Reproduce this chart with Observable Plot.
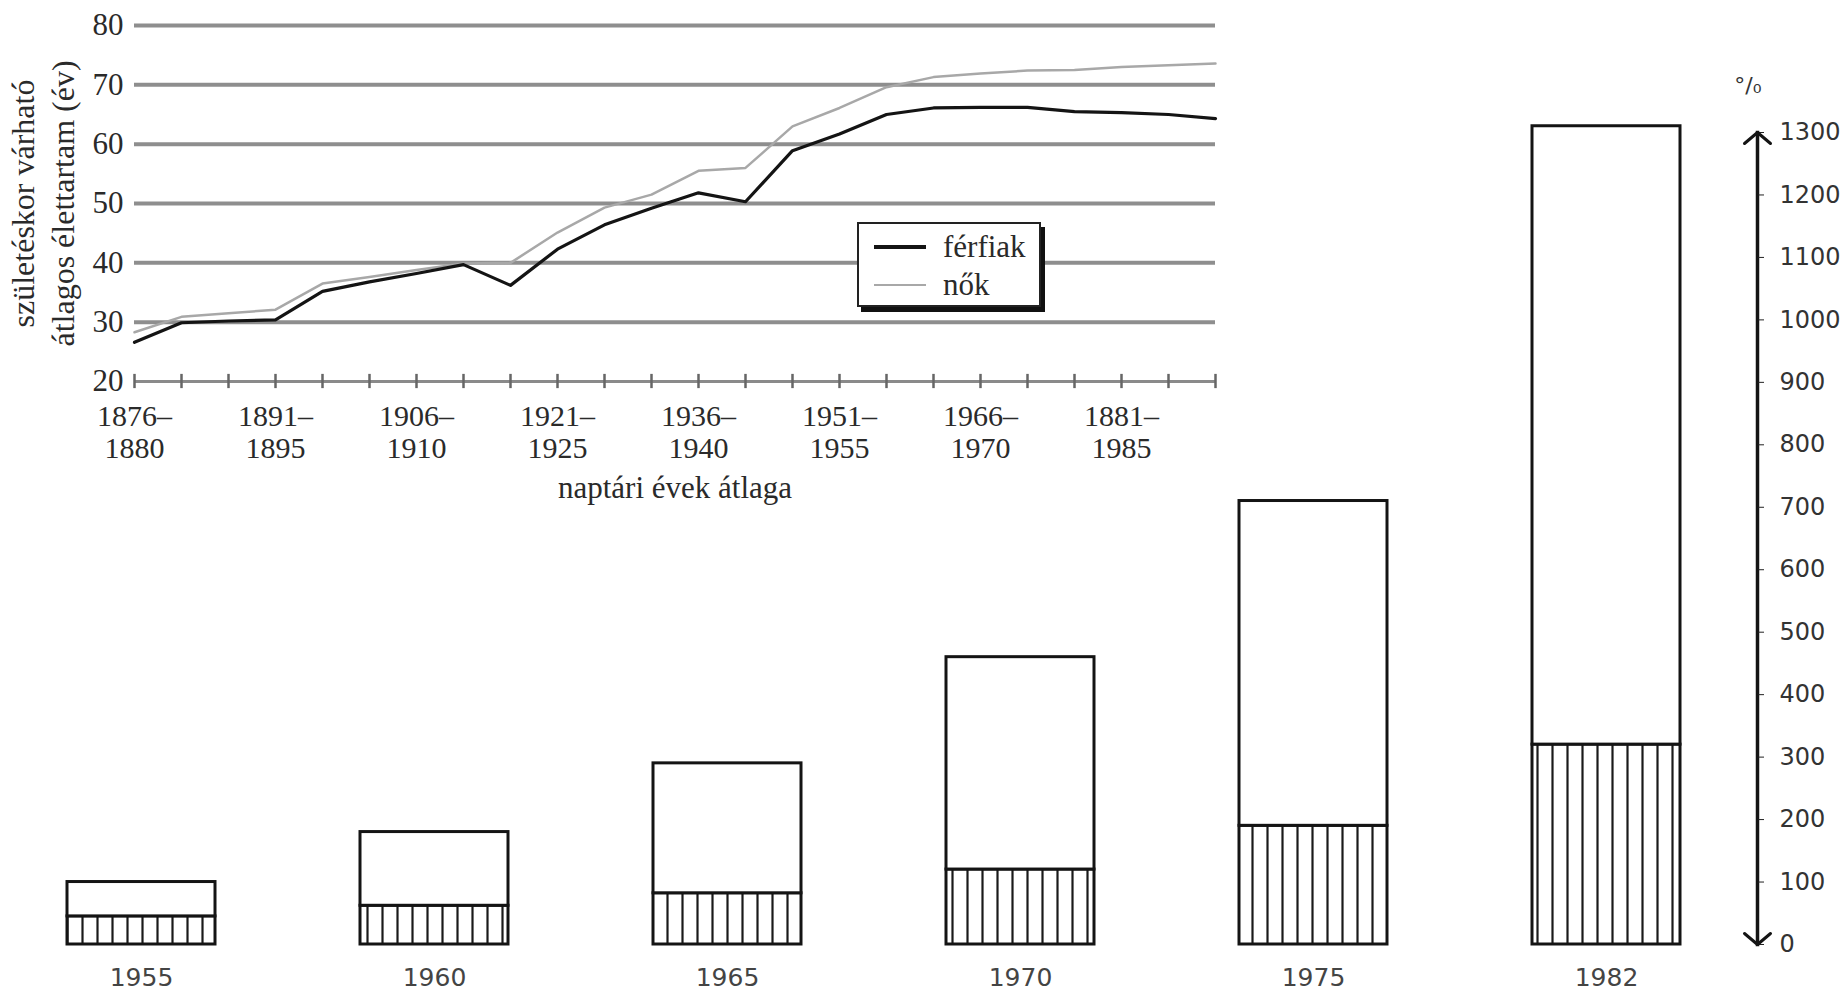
<!DOCTYPE html>
<html>
<head>
<meta charset="utf-8">
<script src="https://cdn.jsdelivr.net/npm/d3@7"></script>
<script src="https://cdn.jsdelivr.net/npm/@observablehq/plot@0.6"></script>
<style>
  html, body { margin: 0; padding: 0; background: #fff; }
  #wrap { position: relative; width: 1843px; height: 1001px; overflow: hidden; background: #fff; }
  #wrap > svg, #wrap > figure { position: absolute; left: 0; top: 0; margin: 0; }
  #legend { position: absolute; left: 857px; top: 222px; width: 180px; height: 81px;
            border: 2px solid #222; box-shadow: 4px 5px 0 #111; background: #fff;
            font-family: "Liberation Serif", "DejaVu Serif", serif; font-size: 31px; color: #2a2a2a; }
  #legend .row { position: absolute; left: 0; height: 38px; line-height: 38px; white-space: nowrap; }
  #legend .sw { position: absolute; left: 15px; width: 52px; }
  #legend .lab { position: absolute; left: 84px; top: 0; }
</style>
</head>
<body>
<div id="wrap"></div>
<script>
// ---------- line chart data (élettartam) ----------
const periodStart = [1876, 1881, 1886, 1891, 1896, 1901, 1906, 1911, 1916, 1921, 1926, 1931,
                     1936, 1941, 1946, 1951, 1956, 1961, 1966, 1971, 1976, 1981, 1986, 1991];
const male   = [26.6, 29.9, 30.2, 30.4, 35.2, 36.8, 38.2, 39.7, 36.2, 42.3, 46.4, 49.2,
                51.8, 50.3, 58.9, 61.7, 65.0, 66.1, 66.2, 66.2, 65.5, 65.3, 65.0, 64.3];
const female = [28.3, 30.9, 31.5, 32.1, 36.5, 37.6, 38.8, 39.9, 40.0, 45.1, 49.3, 51.5,
                55.5, 56.0, 63.0, 66.1, 69.6, 71.3, 71.9, 72.4, 72.5, 73.0, 73.3, 73.6];
const xLabelAt = [1876, 1891, 1906, 1921, 1936, 1951, 1966, 1981];
const xLabels  = ["1876–\n1880", "1891–\n1895", "1906–\n1910", "1921–\n1925",
                  "1936–\n1940", "1951–\n1955", "1966–\n1970", "1881–\n1985"];
const yTicks   = [20, 30, 40, 50, 60, 70, 80];
const gridVals = [30, 40, 50, 60, 70, 80];
const yTitle   = "születéskor várható\nátlagos élettartam (év)";
const xTitle   = "naptári évek átlaga";
const legendNames = ["férfiak", "nők"];

// ---------- bar chart data ----------
const barYears  = ["1955", "1960", "1965", "1970", "1975", "1982"];
const barLower  = [45, 62, 82, 120, 190, 320];
const barTotal  = [100, 180, 290, 460, 710, 1310];
const barTicks  = [0, 100, 200, 300, 400, 500, 600, 700, 800, 900, 1000, 1100, 1200, 1300];
const barUnit   = "°/₀";

const wrap = document.getElementById("wrap");

// arrowhead shape for the right-hand axis ends
const chevronArrow = {
  draw(context, l) {
    context.moveTo(0, 0);
    context.lineTo(0, -l);
    context.moveTo(-13, -l + 11);
    context.lineTo(0, -l);
    context.lineTo(13, -l + 11);
  }
};

// ----- bar chart (full canvas, behind) -----
const barData = barYears.map((y, i) => ({year: y, lower: barLower[i], total: barTotal[i]}));
const barPlot = Plot.plot({
  width: 1843, height: 1001,
  marginLeft: 65, marginRight: 86, marginTop: 132, marginBottom: 57,
  style: {background: "#fff", fontFamily: "'DejaVu Sans', sans-serif", color: "#333", overflow: "visible"},
  x: {type: "band", domain: barYears, range: [65, 1682], paddingInner: 0.495, paddingOuter: 0, label: null},
  y: {domain: [0, 1300], label: null},
  marks: [
    Plot.barY(barData, {x: "year", y1: 0, y2: "lower", fill: "url(#hatch)", stroke: "#141414", strokeWidth: 3}),
    Plot.barY(barData, {x: "year", y1: "lower", y2: "total", fill: "#fff", stroke: "#141414", strokeWidth: 3}),
    Plot.axisX({tickSize: 0, tickPadding: 24, fontSize: 25, fill: "#444", letterSpacing: 1, label: null}),
    Plot.frame({anchor: "right", stroke: "#141414", strokeWidth: 3.5}),
    Plot.axisY({anchor: "right", ticks: barTicks, tickSize: 6, tickPadding: 16, tickFormat: d => String(d),
                fontSize: 24, fill: "#333", stroke: "#222", label: null}),
    Plot.vector([1300], {y: d => d, frameAnchor: "right", rotate: 0, length: 24, anchor: "end",
                         shape: chevronArrow, stroke: "#141414", strokeWidth: 3}),
    Plot.vector([0], {y: d => d, frameAnchor: "right", rotate: 180, length: 24, anchor: "end",
                      shape: chevronArrow, stroke: "#141414", strokeWidth: 3}),
    Plot.text([barUnit], {frameAnchor: "top-right", dx: 4, dy: -55, fontSize: 22, fill: "#333"})
  ]
});
wrap.appendChild(barPlot);
// hatch pattern for the lower part of each bar
{
  const svg = d3.select(barPlot.tagName.toLowerCase() === "svg" ? barPlot : barPlot.querySelector("svg"));
  const pat = svg.insert("defs", ":first-child").append("pattern")
    .attr("id", "hatch").attr("patternUnits", "userSpaceOnUse")
    .attr("width", 15).attr("height", 20);
  pat.append("rect").attr("width", 15).attr("height", 20).attr("fill", "#fff");
  pat.append("line").attr("x1", 7.5).attr("x2", 7.5).attr("y1", 0).attr("y2", 20)
    .attr("stroke", "#1a1a1a").attr("stroke-width", 2.2);
}

// ----- line chart (top-left, transparent) -----
const lineData = periodStart.map((p, i) => ({p, m: male[i], f: female[i]}));
const linePlot = Plot.plot({
  width: 1260, height: 520,
  marginLeft: 134, marginRight: 45, marginTop: 25, marginBottom: 139,
  style: {background: "transparent", fontFamily: "'Liberation Serif', 'DejaVu Serif', serif", color: "#2a2a2a", overflow: "visible"},
  x: {domain: [1876, 1991], label: null},
  y: {domain: [20, 80], label: null},
  marks: [
    Plot.ruleY(gridVals, {stroke: "#8e8e8e", strokeWidth: 4}),
    Plot.ruleY([20], {stroke: "#8a8a8a", strokeWidth: 3}),
    Plot.ruleX(periodStart, {y1: 18.8, y2: 21.2, stroke: "#666", strokeWidth: 2.5}),
    Plot.axisY({ticks: yTicks, tickSize: 0, tickPadding: 11, fontSize: 31, label: null}),
    Plot.axisX({ticks: xLabelAt, tickSize: 0, tickPadding: 21, fontSize: 30, lineHeight: 1.08, label: null,
                tickFormat: (d) => xLabels[xLabelAt.indexOf(d)]}),
    Plot.line(lineData, {x: "p", y: "f", stroke: "#a8a8a8", strokeWidth: 2.5}),
    Plot.line(lineData, {x: "p", y: "m", stroke: "#141414", strokeWidth: 3.2}),
    Plot.text([yTitle], {frameAnchor: "left", dx: -93, rotate: -90, lineHeight: 1.22, fontSize: 32,
                         textAnchor: "middle", lineAnchor: "middle"}),
    Plot.text([xTitle], {frameAnchor: "bottom", dy: 107, fontSize: 31, lineAnchor: "middle"})
  ]
});
wrap.appendChild(linePlot);

// ----- legend (HTML) -----
const legend = document.createElement("div");
legend.id = "legend";
const swatches = [{c: "#141414", h: 3.2}, {c: "#a8a8a8", h: 2.5}];
legendNames.forEach((name, i) => {
  const row = document.createElement("div");
  row.className = "row";
  row.style.top = (i === 0 ? 4 : 42) + "px";
  row.style.width = "178px";
  const sw = document.createElement("span");
  sw.className = "sw";
  sw.style.background = swatches[i].c;
  sw.style.height = swatches[i].h + "px";
  sw.style.top = (19 - swatches[i].h / 2) + "px";
  const lab = document.createElement("span");
  lab.className = "lab";
  lab.textContent = name;
  row.appendChild(sw);
  row.appendChild(lab);
  legend.appendChild(row);
});
wrap.appendChild(legend);
</script>
</body>
</html>
